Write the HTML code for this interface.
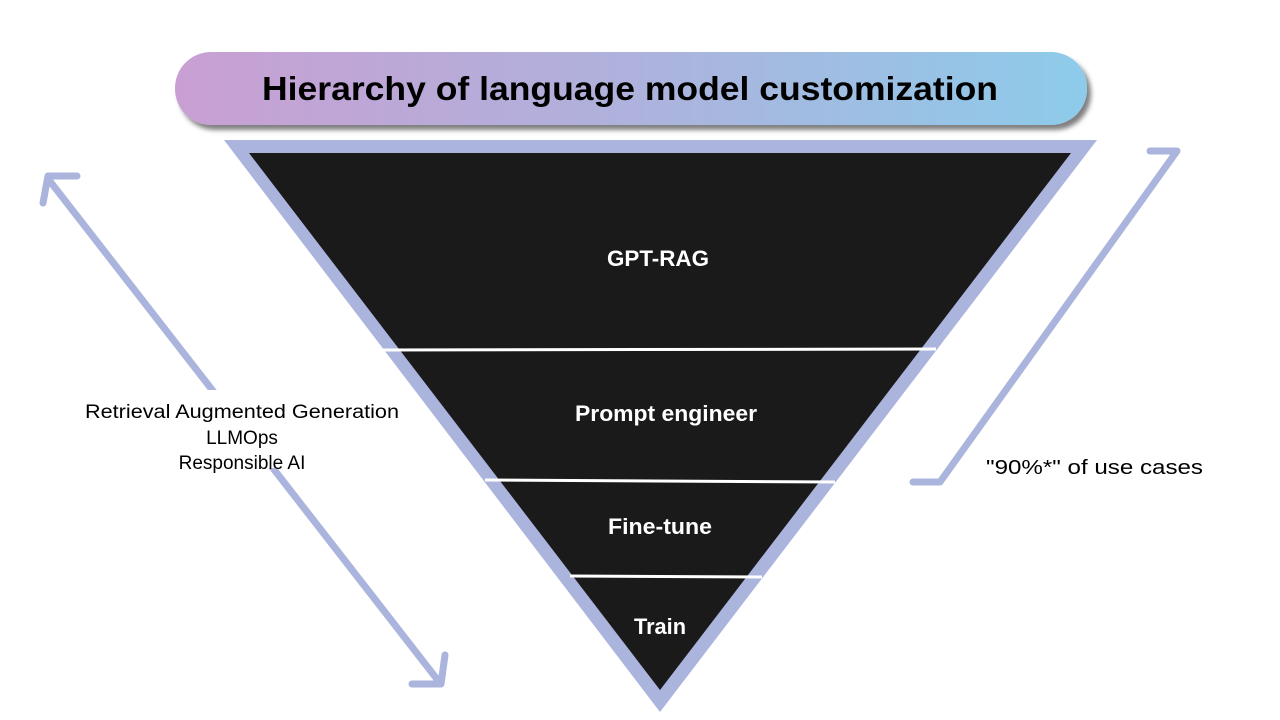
<!DOCTYPE html>
<html><head><style>
html,body{margin:0;padding:0;background:#fff;}
svg{display:block;}
text{font-family:"Liberation Sans",sans-serif;}
</style></head><body>
<svg width="1280" height="720" viewBox="0 0 1280 720">
<defs>
<linearGradient id="g" x1="0" x2="1" y1="0" y2="0">
<stop offset="0" stop-color="#c99fd3"/>
<stop offset="0.5" stop-color="#aeb2dc"/>
<stop offset="1" stop-color="#8dcbea"/>
</linearGradient>
<filter id="sh" x="-5%" y="-20%" width="110%" height="160%">
<feDropShadow dx="4" dy="5" stdDeviation="2.5" flood-color="#000" flood-opacity="0.5"/>
</filter>
</defs>
<rect x="175" y="52" width="912" height="73" rx="36" fill="url(#g)" filter="url(#sh)"/>
<text x="630" y="100" text-anchor="middle" font-size="33" font-weight="bold" fill="#000" textLength="736" lengthAdjust="spacingAndGlyphs">Hierarchy of language model customization</text>

<polygon points="224,140 1097,140 660,712" fill="#aab4dc"/>
<polygon points="249,153 1071,153 660,690" fill="#1a1a1a"/>
<line x1="383" y1="350" x2="936" y2="349" stroke="#fff" stroke-width="3"/>
<line x1="485" y1="480" x2="835" y2="482" stroke="#fff" stroke-width="3"/>
<line x1="570" y1="576" x2="762" y2="577" stroke="#fff" stroke-width="3"/>
<g fill="#fff" font-size="22" font-weight="bold" text-anchor="middle">
<text x="658" y="266" textLength="102" lengthAdjust="spacingAndGlyphs">GPT-RAG</text>
<text x="666" y="421" textLength="182" lengthAdjust="spacingAndGlyphs">Prompt engineer</text>
<text x="660" y="534" textLength="104" lengthAdjust="spacingAndGlyphs">Fine-tune</text>
<text x="660" y="634" textLength="52" lengthAdjust="spacingAndGlyphs">Train</text>
</g>

<g stroke="#aab4dc" stroke-width="7" fill="none" stroke-linecap="round" stroke-linejoin="round">
<line x1="49" y1="180" x2="440" y2="683"/>
<polyline points="77,176 48,176 43,203"/>
<polyline points="412,684 441,684 445,655"/>
<polyline points="1150,151 1177,151 940,482 913,482"/>
</g>
<rect x="85" y="390" width="315" height="78" fill="#fff"/>
<g fill="#000" font-size="19" text-anchor="middle">
<text x="242" y="418" textLength="314" lengthAdjust="spacingAndGlyphs">Retrieval Augmented Generation</text>
<text x="242" y="444">LLMOps</text>
<text x="242" y="469">Responsible AI</text>
</g>
<text x="986" y="474" font-size="20" fill="#000" textLength="217" lengthAdjust="spacingAndGlyphs">"90%*" of use cases</text>
</svg>
</body></html>
